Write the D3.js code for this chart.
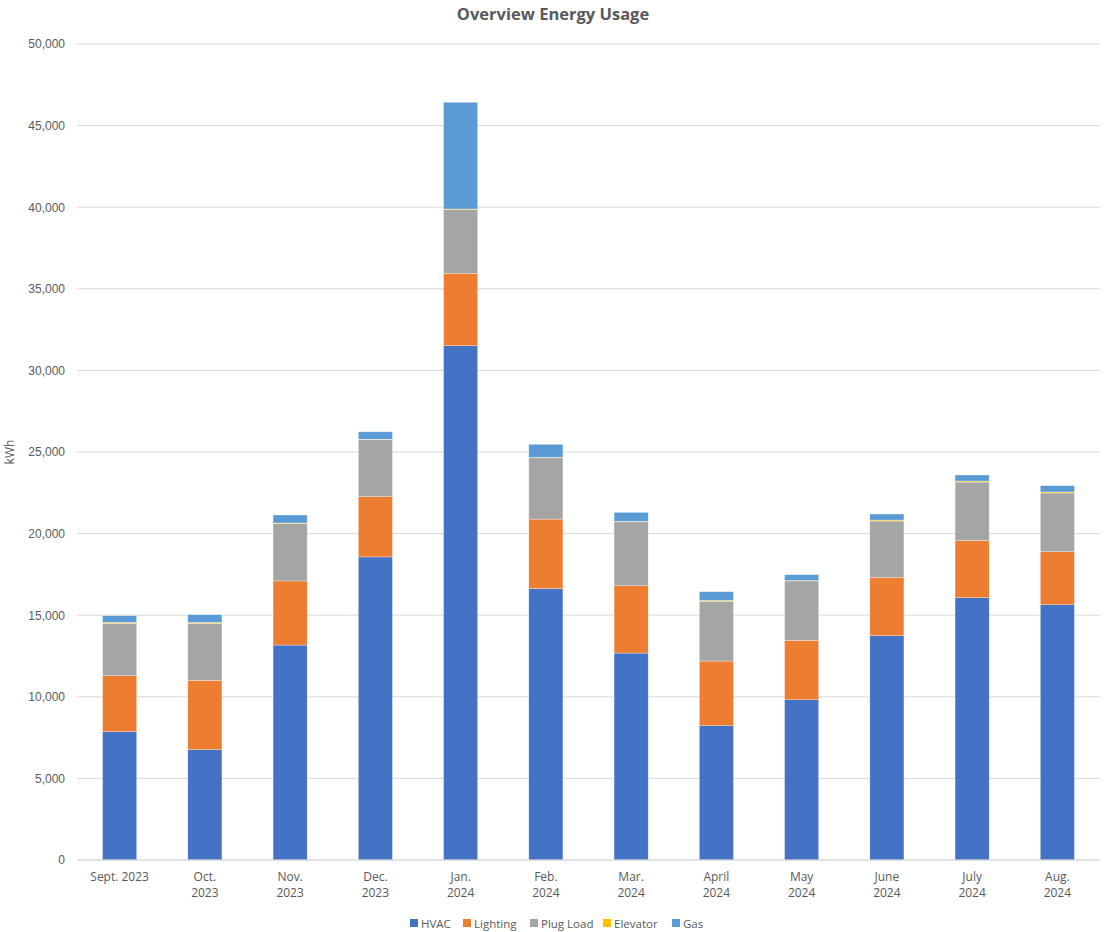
<!DOCTYPE html>
<html>
<head>
<meta charset="utf-8">
<script src="https://cdn.jsdelivr.net/npm/d3@7/dist/d3.min.js"></script>
<style>
  body { margin: 0; background: #fff; }
  svg { display: block; font-family: "Open Sans", "Liberation Sans", sans-serif; }
</style>
</head>
<body>
<svg id="chart" width="1112" height="932"></svg>
<script>
const months = ["Sept. 2023","Oct. 2023","Nov. 2023","Dec. 2023","Jan. 2024","Feb. 2024","Mar. 2024","April 2024","May 2024","June 2024","July 2024","Aug. 2024"];
const monthLabels = [["Sept. 2023"],["Oct.","2023"],["Nov.","2023"],["Dec.","2023"],["Jan.","2024"],["Feb.","2024"],["Mar.","2024"],["April","2024"],["May","2024"],["June","2024"],["July","2024"],["Aug.","2024"]];
const seriesNames = ["HVAC","Lighting","Plug Load","Elevator","Gas"];
const hvac     = [7860, 6760, 13170, 18570, 31510, 16630, 12680, 8230, 9820, 13740, 16070, 15640];
const lighting = [3430, 4250, 3930, 3690, 4440, 4260, 4130, 3960, 3640, 3580, 3500, 3250];
const plugLoad = [3210, 3490, 3520, 3490, 3910, 3750, 3910, 3660, 3640, 3450, 3590, 3600];
const elevator = [60, 60, 30, 30, 30, 30, 30, 60, 30, 60, 60, 60];
const gas      = [410, 470, 490, 460, 6540, 800, 550, 530, 350, 370, 370, 390];
const yTicks = [0,5000,10000,15000,20000,25000,30000,35000,40000,45000,50000];
const colors = ["#4472C4","#ED7D31","#A5A5A5","#FFC000","#5B9BD5"];

const svg = d3.select("#chart");
const m = {left: 77, right: 1100, top: 44, bottom: 860};

const rows = months.map((mo, i) => ({
  month: mo, HVAC: hvac[i], Lighting: lighting[i], "Plug Load": plugLoad[i], Elevator: elevator[i], Gas: gas[i]
}));
const stacked = d3.stack().keys(seriesNames)(rows);

const x = d3.scaleBand().domain(months).range([m.left, m.right]).paddingInner(0.6).paddingOuter(0.3);
const y = d3.scaleLinear().domain([0, 50000]).range([m.bottom, m.top]);

// gridlines
svg.append("g").selectAll("line").data(yTicks).join("line")
  .attr("x1", m.left).attr("x2", m.right)
  .attr("y1", d => y(d)).attr("y2", d => y(d))
  .attr("stroke", "#d9d9d9").attr("stroke-width", 1);

// y axis labels
const yAxis = d3.axisLeft(y).tickValues(yTicks).tickFormat(d3.format(",")).tickSize(0).tickPadding(12);
const yg = svg.append("g").attr("transform", `translate(${m.left},0)`).call(yAxis);
yg.select(".domain").remove();
yg.selectAll("text").attr("fill", "#595959").style("font-size", "12px");

// bars
svg.append("g").selectAll("g").data(stacked).join("g")
  .attr("fill", (d, i) => colors[i])
  .selectAll("rect").data(d => d).join("rect")
  .attr("x", d => x(d.data.month))
  .attr("width", x.bandwidth())
  .attr("y", d => y(d[1]))
  .attr("height", d => Math.max(0, y(d[0]) - y(d[1])))
  .attr("stroke", "#ffffff").attr("stroke-width", 0.5).attr("stroke-opacity", 0.6);

// baseline
svg.append("line").attr("x1", m.left).attr("x2", m.right)
  .attr("y1", y(0)).attr("y2", y(0)).attr("stroke", "#d9d9d9").attr("stroke-width", 1);

// x labels
const xl = svg.append("g").selectAll("text").data(months).join("text")
  .attr("x", d => x(d) + x.bandwidth() / 2)
  .attr("y", 881)
  .attr("text-anchor", "middle")
  .attr("fill", "#595959").style("font-size", "12px");
xl.each(function(d, i) {
  const t = d3.select(this);
  monthLabels[i].forEach((line, j) => {
    t.append("tspan").attr("x", x(d) + x.bandwidth() / 2).attr("dy", j === 0 ? 0 : 16).text(line);
  });
});

// title
svg.append("text").attr("x", 553).attr("y", 20).attr("text-anchor", "middle")
  .attr("fill", "#595959").style("font-size", "16.5px").style("font-weight", "bold")
  .text("Overview Energy Usage");

// y axis title
svg.append("text").attr("transform", `translate(14,${(m.top + m.bottom) / 2}) rotate(-90)`)
  .attr("text-anchor", "middle").attr("fill", "#595959").style("font-size", "12px").text("kWh");

// legend
const legendX = [410, 463, 530, 603, 672];
const lg = svg.append("g");
seriesNames.forEach((name, i) => {
  const g = lg.append("g").attr("transform", `translate(${legendX[i]},923)`);
  g.append("rect").attr("x", 0).attr("y", -4).attr("width", 8).attr("height", 8).attr("fill", colors[i]);
  g.append("text").attr("x", 11).attr("y", 4.5).attr("fill", "#595959").style("font-size", "11.5px").text(name);
});
</script>
</body>
</html>
